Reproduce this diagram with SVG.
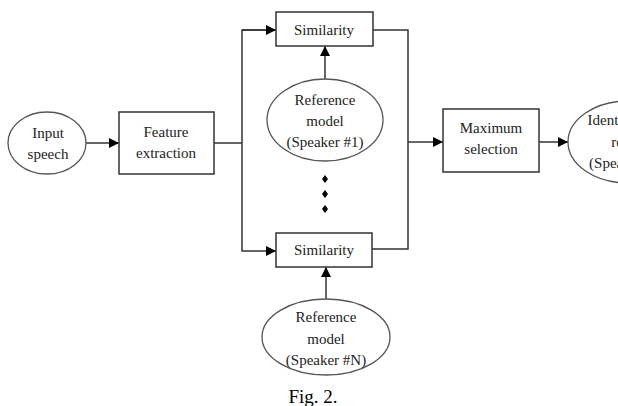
<svg xmlns="http://www.w3.org/2000/svg" width="618" height="406" viewBox="0 0 618 406">
<defs>
<marker id="ah" markerWidth="10" markerHeight="10" refX="10" refY="5" orient="auto" markerUnits="userSpaceOnUse">
<path d="M0,0 L10,5 L0,10 Z" fill="#000"/>
</marker>
</defs>
<style>
text{font-family:"Liberation Serif","Times New Roman",serif;font-size:15px;fill:#222;text-anchor:middle}
.box{fill:#fff;stroke:#333;stroke-width:1.5}
.ell{fill:#fff;stroke:#555;stroke-width:1.3}
.ln{fill:none;stroke:#333;stroke-width:1.5}
.dot{fill:#000}
</style>
<rect width="618" height="406" fill="#fff"/>
<g id="connectors">
<line class="ln" x1="86" y1="143" x2="119" y2="143" marker-end="url(#ah)"/>
<line class="ln" x1="214" y1="143" x2="242" y2="143"/>
<polyline class="ln" points="276,30 242,30 242,251 276,251" marker-end="url(#ah)"/>
<line class="ln" x1="242" y1="30" x2="276" y2="30" marker-end="url(#ah)"/>
<polyline class="ln" points="373,30 408,30 408,249 372,249"/>
<line class="ln" x1="408" y1="142" x2="443" y2="142" marker-end="url(#ah)"/>
<line class="ln" x1="539" y1="142" x2="568" y2="142" marker-end="url(#ah)"/>
<line class="ln" x1="325" y1="79" x2="325" y2="46" marker-end="url(#ah)"/>
<line class="ln" x1="326" y1="299" x2="326" y2="267" marker-end="url(#ah)"/>
</g>
<g id="input">
<ellipse class="ell" cx="47" cy="143" rx="39" ry="31"/>
<text x="48" y="138">Input</text>
<text x="48" y="159">speech</text>
</g>
<g id="feature">
<rect class="box" x="119" y="112" width="95" height="62"/>
<text x="166" y="137">Feature</text>
<text x="166" y="158">extraction</text>
</g>
<g id="sim1">
<rect class="box" x="276" y="12" width="97" height="34"/>
<text x="324" y="35">Similarity</text>
</g>
<g id="ref1">
<ellipse class="ell" cx="325" cy="120" rx="58" ry="41"/>
<text x="325" y="105">Reference</text>
<text x="325" y="126">model</text>
<text x="325" y="147">(Speaker #1)</text>
</g>
<g id="dots">
<path class="dot" d="M325,175 l3,4 l-3,4 l-3,-4 Z"/>
<path class="dot" d="M325,190 l3,4 l-3,4 l-3,-4 Z"/>
<path class="dot" d="M325,205 l3,4 l-3,4 l-3,-4 Z"/>
</g>
<g id="simN">
<rect class="box" x="276" y="233" width="96" height="34"/>
<text x="324" y="255">Similarity</text>
</g>
<g id="refN">
<ellipse class="ell" cx="326" cy="337" rx="64" ry="38"/>
<text x="326" y="322">Reference</text>
<text x="326" y="344">model</text>
<text x="326" y="365">(Speaker #N)</text>
</g>
<g id="max">
<rect class="box" x="443" y="109" width="96" height="63"/>
<text x="491" y="133">Maximum</text>
<text x="491" y="154">selection</text>
</g>
<g id="result">
<ellipse class="ell" cx="628" cy="142" rx="60" ry="41"/>
<text x="628" y="125">Identification</text>
<text x="628" y="147">result</text>
<text x="628" y="168">(Speaker ID)</text>
</g>
<text x="313" y="403" style="font-size:19px;fill:#000">Fig. 2.</text>
</svg>
